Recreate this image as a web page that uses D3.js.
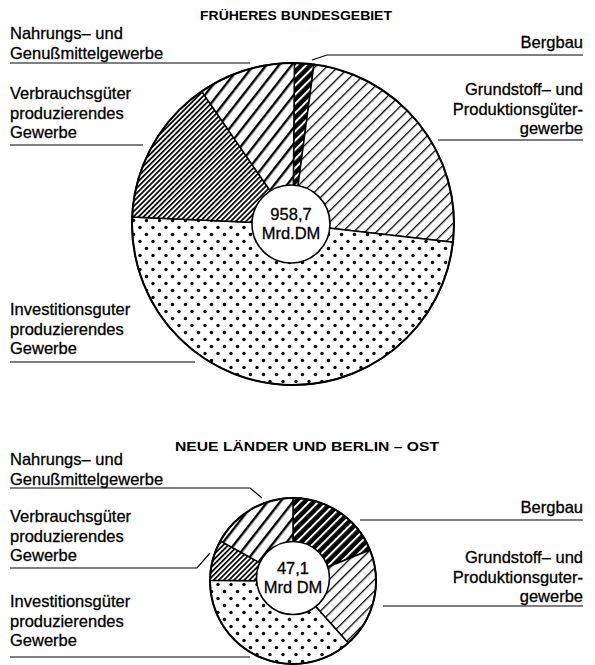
<!DOCTYPE html>
<html>
<head>
<meta charset="utf-8">
<script src="https://cdn.jsdelivr.net/npm/d3@7"></script>
<style>
  body { margin: 0; background: #fff; }
  svg { display: block; font-family: "Liberation Sans", Arial, sans-serif; }
</style>
</head>
<body>
<div id="chart"></div>
<script>
// sectors, clockwise from top
const sectors = ["Bergbau", "Grundstoff", "Investition", "Verbrauch", "Nahrung"];
// Mrd DM
const westValues = [18.6, 237.0, 468.7, 141.1, 93.3];
const eastValues = [8.9, 9.2, 17.3, 3.7, 8.0];
const westTotal = "958,7";
const eastTotal = "47,1";

const W = 595, H = 665;
const svg = d3.select("#chart").append("svg")
  .attr("width", W).attr("height", H);

// hatch patterns
const defs = svg.append("defs");
function lines(id, step, width, angle, bg) {
  const p = defs.append("pattern").attr("id", id)
    .attr("patternUnits", "userSpaceOnUse")
    .attr("width", step).attr("height", step)
    .attr("patternTransform", `rotate(${angle})`);
  p.append("rect").attr("width", step).attr("height", step).attr("fill", bg || "#fff");
  p.append("rect").attr("y", 0).attr("width", step).attr("height", width)
    .attr("fill", bg ? "#fff" : "#000");
}
lines("p-berg", 6.5, 2, -45, "#000");
lines("p-grund", 8, 1.3, -45);
lines("p-verb", 3.6, 1.7, -45);
lines("p-nahr", 10, 2.4, -52);
const dot = defs.append("pattern").attr("id", "p-inv")
  .attr("patternUnits", "userSpaceOnUse").attr("width", 13).attr("height", 14);
dot.append("rect").attr("width", 13).attr("height", 14).attr("fill", "#fff");
dot.append("circle").attr("cx", 3).attr("cy", 3.5).attr("r", 1.7).attr("fill", "#000");
dot.append("circle").attr("cx", 9.5).attr("cy", 10.5).attr("r", 1.7).attr("fill", "#000");

const fills = {
  Bergbau: "url(#p-berg)", Grundstoff: "url(#p-grund)", Investition: "url(#p-inv)",
  Verbrauch: "url(#p-verb)", Nahrung: "url(#p-nahr)"
};

function drawPie(values, cx, cy, r, hole, start, total, unit) {
  const g = svg.append("g").attr("transform", `translate(${cx},${cy})`);
  const pie = d3.pie().sort(null)
    .startAngle(start).endAngle(start + 2 * Math.PI);
  const arc = d3.arc().innerRadius(0).outerRadius(r);
  const arcs = pie(values);
  g.selectAll("path.slice").data(arcs).join("path")
    .attr("class", "slice")
    .attr("d", arc)
    .attr("fill", (d, i) => fills[sectors[i]])
    .attr("stroke", "#000").attr("stroke-width", 1.5);
  g.append("circle").attr("r", r).attr("fill", "none")
    .attr("stroke", "#000").attr("stroke-width", 2);
  g.append("circle").attr("cx", hole.dx).attr("cy", hole.dy).attr("r", hole.r)
    .attr("fill", "#fff").attr("stroke", "#000").attr("stroke-width", 1.6);
  g.append("text").attr("x", hole.dx).attr("y", hole.dy - 4)
    .attr("text-anchor", "middle").attr("font-size", 16.5)
    .attr("stroke", "#000").attr("stroke-width", 0.3).text(total);
  g.append("text").attr("x", hole.dx).attr("y", hole.dy + 15)
    .attr("text-anchor", "middle").attr("font-size", 16.5)
    .attr("stroke", "#000").attr("stroke-width", 0.3).text(unit);
}

const rad = d => d * Math.PI / 180;
drawPie(westValues, 293, 224, 161, { dx: -2, dy: 0, r: 39 }, rad(0.5), westTotal, "Mrd.DM");
drawPie(eastValues, 293, 581, 83, { dx: 0, dy: -3, r: 36.5 }, 0, eastTotal, "Mrd DM");

// titles
svg.append("text").attr("x", 296).attr("y", 20).attr("text-anchor", "middle")
  .attr("font-weight", "bold").attr("font-size", 12)
  .attr("textLength", 192).attr("lengthAdjust", "spacingAndGlyphs")
  .text("FRÜHERES BUNDESGEBIET");
svg.append("text").attr("x", 307).attr("y", 451).attr("text-anchor", "middle")
  .attr("font-weight", "bold").attr("font-size", 12)
  .attr("textLength", 264).attr("lengthAdjust", "spacingAndGlyphs")
  .text("NEUE LÄNDER UND BERLIN – OST");

// labels with leader lines
const labels = [
  { x: 10, y: 39, a: "start", t: ["Nahrungs– und", "Genußmittelgewerbe"], line: [[10, 63], [250, 63]] },
  { x: 10, y: 99, a: "start", t: ["Verbrauchsgüter", "produzierendes", "Gewerbe"], line: [[10, 145], [143, 145]] },
  { x: 10, y: 315, a: "start", t: ["Investitionsguter", "produzierendes", "Gewerbe"], line: [[10, 362], [195, 362]] },
  { x: 583, y: 48, a: "end", t: ["Bergbau"], line: [[312, 60], [327, 55], [583, 55]] },
  { x: 583, y: 95, a: "end", t: ["Grundstoff– und", "Produktionsgüter-", "gewerbe"], line: [[438, 140], [583, 140]] },
  { x: 10, y: 465, a: "start", t: ["Nahrungs– und", "Genußmittelgewerbe"], line: [[10, 488], [250, 488], [262, 498]] },
  { x: 10, y: 522, a: "start", t: ["Verbrauchsgüter", "produzierendes", "Gewerbe"], line: [[10, 568], [197, 568], [210, 553]] },
  { x: 10, y: 607, a: "start", t: ["Investitionsgüter", "produzierendes", "Gewerbe"], line: [[10, 657], [250, 657]] },
  { x: 583, y: 513, a: "end", t: ["Bergbau"], line: [[360, 520], [583, 520]] },
  { x: 583, y: 563, a: "end", t: ["Grundstoff– und", "Produktionsguter-", "gewerbe"], line: [[383, 606], [583, 606]] }
];
const lineGen = d3.line();
labels.forEach(l => {
  const t = svg.append("text").attr("x", l.x).attr("y", l.y)
    .attr("text-anchor", l.a).attr("font-size", 16.5)
    .attr("stroke", "#000").attr("stroke-width", 0.3);
  l.t.forEach((s, i) => t.append("tspan").attr("x", l.x).attr("dy", i ? 19.5 : 0).text(s));
  svg.append("path").attr("d", lineGen(l.line)).attr("fill", "none")
    .attr("stroke", "#000").attr("stroke-width", 1.2);
});
</script>
</body>
</html>
